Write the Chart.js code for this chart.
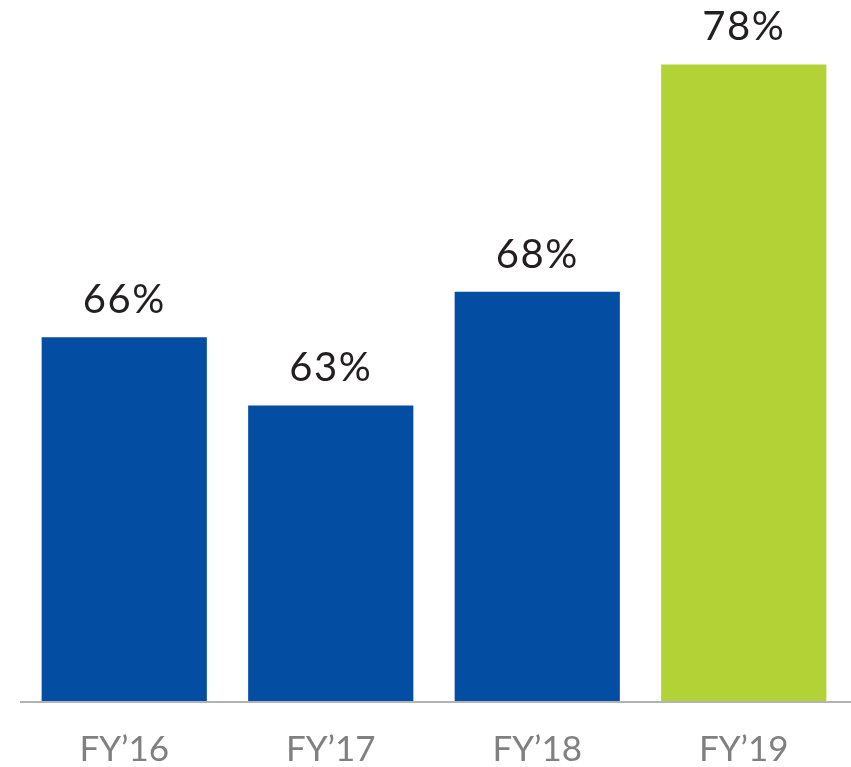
<!DOCTYPE html>
<html>
<head>
<meta charset="utf-8">
<script src="https://cdn.jsdelivr.net/npm/chart.js@4/dist/chart.umd.min.js"></script>
<style>
  html, body { margin: 0; padding: 0; background: #ffffff; }
  #wrap { width: 851px; height: 767px; position: relative; }
</style>
</head>
<body>
<div id="wrap"><canvas id="chart"></canvas></div>
<script>
// Share of respondents by fiscal year
const categories = ["FY\u201916", "FY\u201917", "FY\u201918", "FY\u201919"];
const values = [66, 63, 68, 78];
const barColors = ["#034ea2", "#034ea2", "#034ea2", "#b2d235"];
const yRange = [50, 80];

// Value labels above each bar, plus the baseline rule
const labelPlugin = {
  id: "valueLabels",
  afterDatasetsDraw(chart) {
    const ctx = chart.ctx;
    const meta = chart.getDatasetMeta(0);
    ctx.save();
    ctx.font = "40px Lato, 'Open Sans', sans-serif";
    ctx.letterSpacing = "1.5px";
    ctx.fillStyle = "#231f20";
    ctx.textAlign = "center";
    ctx.textBaseline = "alphabetic";
    meta.data.forEach((bar, i) => {
      ctx.fillText(values[i] + "%", bar.x, bar.y - 24);
    });
    ctx.letterSpacing = "0px";
    const yb = chart.scales.y.getPixelForValue(yRange[0]);
    ctx.strokeStyle = "#b3b3b3";
    ctx.lineWidth = 2;
    ctx.beginPath();
    ctx.moveTo(20, yb + 1);
    ctx.lineTo(chart.width, yb + 1);
    ctx.stroke();
    ctx.restore();
  }
};

new Chart(document.getElementById("chart"), {
  type: "bar",
  data: {
    labels: categories,
    datasets: [{
      data: values,
      backgroundColor: barColors,
      borderWidth: 0,
      categoryPercentage: 0.8,
      barPercentage: 1.0
    }]
  },
  options: {
    responsive: true,
    maintainAspectRatio: false,
    animation: false,
    devicePixelRatio: 1,
    layout: { padding: { left: 21, right: 4, top: 19, bottom: 0 } },
    plugins: { legend: { display: false }, tooltip: { enabled: false } },
    scales: {
      x: {
        grid: { display: false },
        border: { display: false },
        afterFit(scale) { scale.height = 66; },
        ticks: {
          color: "#808080",
          padding: 20,
          font: { family: "Lato, 'Open Sans', sans-serif", size: 35 }
        }
      },
      y: {
        display: false,
        min: yRange[0],
        max: yRange[1]
      }
    }
  },
  plugins: [labelPlugin]
});
</script>
</body>
</html>
